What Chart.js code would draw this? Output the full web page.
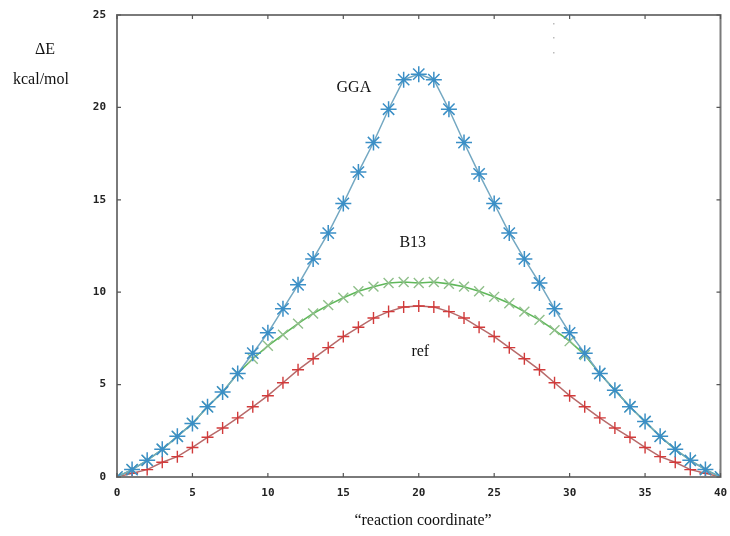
<!DOCTYPE html>
<html>
<head>
<meta charset="utf-8">
<script src="https://cdn.jsdelivr.net/npm/chart.js@4"></script>
<style>
  html, body { margin: 0; padding: 0; background: #fff; }
  #wrap { width: 730px; height: 536px; position: relative; }
</style>
</head>
<body>
<div id="wrap"><canvas id="c" width="730" height="536"></canvas></div>
<script>
// Reaction coordinate (x) values
const coords = [0,1,2,3,4,5,6,7,8,9,10,11,12,13,14,15,16,17,18,19,20,21,22,23,24,25,26,27,28,29,30,31,32,33,34,35,36,37,38,39,40];
// ΔE (kcal/mol) per series
const ggaValues = [0,0.4,0.9,1.5,2.2,2.9,3.8,4.6,5.6,6.7,7.8,9.1,10.4,11.8,13.2,14.8,16.5,18.1,19.9,21.5,21.8,21.5,19.9,18.1,16.4,14.8,13.2,11.8,10.5,9.1,7.8,6.7,5.6,4.7,3.8,3.0,2.2,1.5,0.9,0.4,0];
const b13Values = [0,0.4,0.9,1.5,2.2,2.9,3.8,4.6,5.6,6.4,7.1,7.7,8.3,8.85,9.3,9.7,10.05,10.3,10.5,10.55,10.5,10.55,10.45,10.3,10.05,9.75,9.4,8.95,8.5,7.95,7.35,6.6,5.6,4.7,3.8,3.0,2.2,1.5,0.9,0.4,0];
const refValues = [0,0.2,0.4,0.8,1.1,1.6,2.15,2.65,3.2,3.8,4.4,5.1,5.8,6.4,7.0,7.6,8.1,8.6,8.95,9.2,9.25,9.2,8.95,8.6,8.1,7.6,7.0,6.4,5.8,5.1,4.4,3.8,3.2,2.65,2.15,1.6,1.1,0.8,0.4,0.2,0];
// Tick values
const xTicks = [0,5,10,15,20,25,30,35,40];
const yTicks = [0,5,10,15,20,25];
// Curve labels and their anchor positions (data units)
const curveLabels = [
  { text: 'GGA', x: 15.7, y: 21.05 },
  { text: 'B13', x: 19.6, y: 12.66 },
  { text: 'ref', x: 20.1, y: 6.76 }
];

const toPts = vals => coords.map((c, i) => ({ x: c, y: vals[i] }));

const framePlugin = {
  id: 'frame',
  afterDatasetsDraw(chart) {
    const { ctx, chartArea: a, scales } = chart;
    ctx.save();
    ctx.strokeStyle = '#7a7a7a';
    ctx.lineWidth = 2;
    ctx.strokeRect(a.left, a.top, a.right - a.left, a.bottom - a.top);
    ctx.lineWidth = 1.2;
    ctx.strokeStyle = '#555';
    const tl = 4;
    xTicks.forEach(v => {
      const px = scales.x.getPixelForValue(v);
      ctx.beginPath();
      ctx.moveTo(px, a.bottom); ctx.lineTo(px, a.bottom - tl);
      ctx.moveTo(px, a.top); ctx.lineTo(px, a.top + tl);
      ctx.stroke();
    });
    yTicks.forEach(v => {
      const py = scales.y.getPixelForValue(v);
      ctx.beginPath();
      ctx.moveTo(a.left, py); ctx.lineTo(a.left + tl, py);
      ctx.moveTo(a.right, py); ctx.lineTo(a.right - tl, py);
      ctx.stroke();
    });
    // curve labels
    ctx.fillStyle = '#111';
    ctx.font = '16px "Liberation Serif", "DejaVu Serif", serif';
    ctx.textAlign = 'center';
    ctx.textBaseline = 'middle';
    curveLabels.forEach(l => {
      ctx.fillText(l.text, scales.x.getPixelForValue(l.x), scales.y.getPixelForValue(l.y));
    });
    // axis titles
    ctx.fillText('ΔE', 45, 50);
    ctx.fillText('kcal/mol', 41, 80);
    ctx.fillText('\u201Creaction coordinate\u201D', 423, 521);
    // faint dots near top
    ctx.fillStyle = '#bbb';
    [23, 37, 52].forEach(y => { ctx.fillRect(553, y, 1.5, 1.5); });
    ctx.restore();
  }
};

const tickFont = { family: '"DejaVu Sans Mono", monospace', size: 11, weight: 'bold' };

new Chart(document.getElementById('c'), {
  type: 'line',
  data: {
    datasets: [
      {
        label: 'GGA',
        data: toPts(ggaValues),
        borderColor: '#74a8c2',
        borderWidth: 1.5,
        pointStyle: 'star',
        pointRadius: 8,
        pointBorderWidth: 1.5,
        pointBorderColor: '#3b8fc6',
        pointBackgroundColor: '#3b8fc6',
        order: 1,
        tension: 0
      },
      {
        label: 'B13',
        data: toPts(b13Values),
        borderColor: '#5fb85a',
        borderWidth: 1.6,
        pointStyle: 'crossRot',
        pointRadius: 7,
        pointBorderWidth: 1.4,
        pointBorderColor: '#8fbf8a',
        order: 2,
        tension: 0
      },
      {
        label: 'ref',
        data: toPts(refValues),
        borderColor: '#b86a6a',
        borderWidth: 1.5,
        pointStyle: 'cross',
        pointRadius: 6,
        pointBorderWidth: 1.4,
        pointBorderColor: '#d23a3a',
        order: 3,
        tension: 0
      }
    ]
  },
  options: {
    responsive: false,
    animation: false,
    devicePixelRatio: 1,
    layout: { padding: { left: 0, right: 8, top: 15, bottom: 0 } },
    plugins: { legend: { display: false }, tooltip: { enabled: false } },
    scales: {
      x: {
        type: 'linear',
        min: 0, max: 40,
        grid: { display: false, drawTicks: false },
        border: { display: false },
        afterBuildTicks: s => { s.ticks = xTicks.map(v => ({ value: v })); },
        ticks: { color: '#222', font: tickFont, padding: 10, maxRotation: 0, autoSkip: false },
        afterFit: s => { s.height = 59; s.paddingLeft = 0; s.paddingRight = 0; }
      },
      y: {
        type: 'linear',
        min: 0, max: 25,
        grid: { display: false, drawTicks: false },
        border: { display: false },
        afterBuildTicks: s => { s.ticks = yTicks.map(v => ({ value: v })); },
        ticks: { color: '#222', font: tickFont, padding: 11, autoSkip: false },
        afterFit: s => { s.width = 117; s.paddingTop = 0; s.paddingBottom = 0; }
      }
    }
  },
  plugins: [framePlugin]
});
</script>
</body>
</html>
